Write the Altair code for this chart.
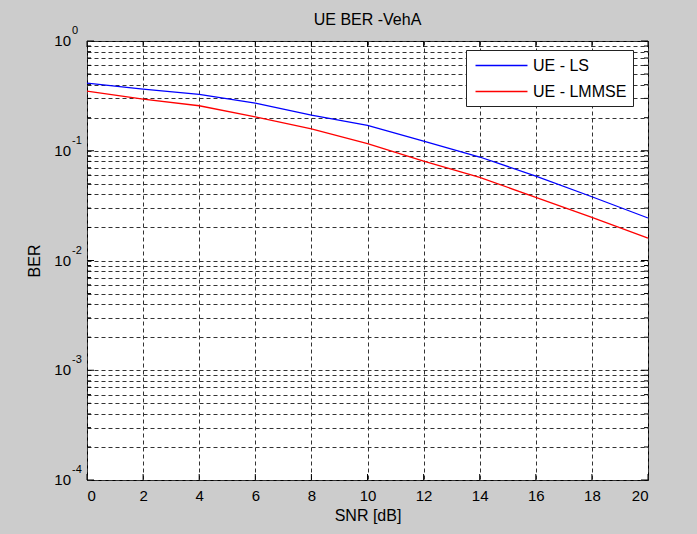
import altair as alt
import pandas as pd

# ---- data ----
snr = [0, 2, 4, 6, 8, 10, 12, 14, 16, 18, 20]
ber_ls = [0.414, 0.365, 0.327, 0.272, 0.211, 0.170, 0.1226, 0.0877, 0.0588, 0.0381, 0.0244]
ber_lmmse = [0.350, 0.296, 0.257, 0.204, 0.158, 0.116, 0.0805, 0.0572, 0.0376, 0.0247, 0.0160]
series_names = ["UE - LS", "UE - LMMSE"]
x_ticks = [0, 2, 4, 6, 8, 10, 12, 14, 16, 18, 20]
y_decades = [1, 0.1, 0.01, 0.001, 0.0001]
y_exps = ["0", "-1", "-2", "-3", "-4"]
y_minor = [m * 10.0 ** k for k in range(-4, 0) for m in range(2, 10)]

W, H = 561, 439
FONT = "Liberation Sans"

df = pd.DataFrame({
    "SNR": snr * 2,
    "BER": ber_ls + ber_lmmse,
    "series": [series_names[0]] * len(snr) + [series_names[1]] * len(snr),
})
grid_vals = sorted(y_decades + y_minor)

xs = alt.Scale(domain=[0, 20], nice=False, zero=False)
ys = alt.Scale(type="log", domain=[1e-4, 1], nice=False)

x_axis = alt.Axis(values=x_ticks, ticks=False, domain=False, labelPadding=8,
                  labelFontSize=15, labelColor="black", labelFont=FONT,
                  grid=True, gridDash=[4, 3], gridColor="#333", gridOpacity=1, gridWidth=1,
                  title="SNR [dB]", titleFontSize=16, titleFontWeight="normal", titleFont=FONT,
                  titleColor="black", titleY=35, titleBaseline="middle")
y_axis = alt.Axis(values=grid_vals, labels=False, ticks=False, domain=False,
                  grid=True, gridDash=[4, 3], gridColor="#333", gridOpacity=1, gridWidth=1,
                  title="BER", titleFontSize=16, titleFontWeight="normal", titleFont=FONT,
                  titleColor="black", titleAngle=270, titleX=-53, titleY=H / 2,
                  titleAlign="center", titleBaseline="middle")

lines = alt.Chart(df).mark_line(strokeWidth=1.3).encode(
    x=alt.X("SNR:Q", scale=xs, axis=x_axis),
    y=alt.Y("BER:Q", scale=ys, axis=y_axis),
    color=alt.Color("series:N",
                    scale=alt.Scale(domain=series_names, range=["#0000ff", "#ff0000"]),
                    legend=alt.Legend(orient="none", legendX=379, legendY=9, title=None,
                                      symbolType="M-3,0H3", symbolSize=300, symbolStrokeWidth=1.5,
                                      symbolOffset=20, labelOffset=22,
                                      labelFontSize=16, labelFont=FONT, labelColor="black",
                                      rowPadding=8, padding=6,
                                      strokeColor="#222", fillColor="white")),
)

xt = pd.DataFrame({"SNR": x_ticks})
dec = pd.DataFrame({"BER": y_decades, "e": y_exps})
minor = pd.DataFrame({"BER": y_minor})

tick_b = alt.Chart(xt).mark_rule(color="black").encode(x="SNR:Q", y=alt.value(H), y2=alt.value(H - 6))
tick_t = alt.Chart(xt).mark_rule(color="black").encode(x="SNR:Q", y=alt.value(0), y2=alt.value(6))
ymaj_l = alt.Chart(dec).mark_rule(color="black").encode(y="BER:Q", x=alt.value(0), x2=alt.value(7))
ymaj_r = alt.Chart(dec).mark_rule(color="black").encode(y="BER:Q", x=alt.value(W), x2=alt.value(W - 7))
ymin_l = alt.Chart(minor).mark_rule(color="black").encode(y="BER:Q", x=alt.value(0), x2=alt.value(4))
ymin_r = alt.Chart(minor).mark_rule(color="black").encode(y="BER:Q", x=alt.value(W), x2=alt.value(W - 4))

lab10 = alt.Chart(dec).mark_text(align="right", baseline="middle", fontSize=15, font=FONT,
                                 color="black").encode(y="BER:Q", x=alt.value(-16), text=alt.value("10"))
labexp = alt.Chart(dec).mark_text(align="left", baseline="middle", fontSize=11, font=FONT,
                                  color="black", dy=-10).encode(y="BER:Q", x=alt.value(-15), text="e:N")

chart = alt.layer(lines, tick_b, tick_t, ymaj_l, ymaj_r, ymin_l, ymin_r, lab10, labexp).properties(
    width=W, height=H,
    title=alt.TitleParams("UE BER -VehA", fontSize=16, fontWeight="normal", font=FONT,
                          color="black", anchor="middle", offset=-3),
    autosize=alt.AutoSizeParams(type="none"),
    padding={"left": 87, "top": 41, "right": 49, "bottom": 54},
    background="#cccccc",
).configure_view(stroke="black", strokeWidth=1, fill="white")

chart.save("out.html", embed_options={"renderer": "svg", "actions": False})
